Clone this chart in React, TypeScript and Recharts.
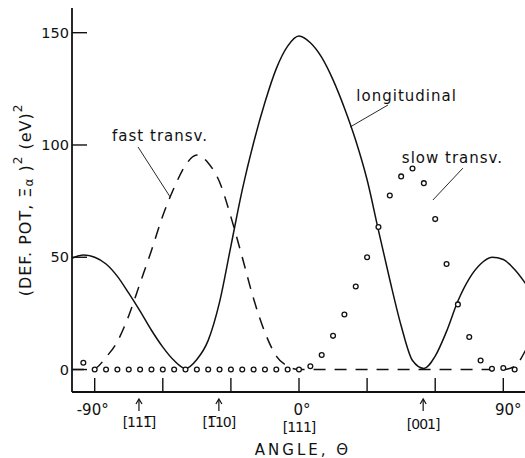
import React from 'react'
import { ComposedChart, Line, XAxis, YAxis, ReferenceLine, ReferenceDot } from 'recharts'

// angle from [111], degrees
const angles = [
  -100, -95, -90, -85, -80, -75, -70, -65, -60, -55, -50, -45, -40, -35, -30, -25, -20, -15, -10, -5,
  0, 5, 10, 15, 20, 25, 30, 35, 40, 45, 50, 55, 60, 65, 70, 75, 80, 85, 90, 95, 100,
]

// deformation potential squared, (eV)^2
const longitudinal = [
  49.5, 51, 50, 47, 41.5, 34, 26, 17.5, 10, 4, 0.5, 4.5, 13, 30, 55, 80, 101, 119, 134, 144,
  148.5, 145.5, 139, 129, 116.5, 102, 84.5, 62, 40, 19.5, 4, 0.5, 6, 17, 30.5, 40.5, 47, 50, 49, 44.5, 38,
]
const fastTransverse = [
  0, 0, 0.5, 5.5, 12.5, 24, 38.5, 53, 68.5, 81, 91, 95.5, 92, 83.5, 68, 50, 31.5, 16.5, 6, 1.5,
  0, 0, 0, 0, 0, 0, 0, 0, 0, 0, 0, 0, 0, 0, 0, 0, 0, 0, 0, 1.5, 9,
]
const slowTransverse = [
  null, 3, 0, 0, 0, 0, 0, 0, 0, 0, 0, 0, 0, 0, 0, 0, 0, 0, 0, 0,
  0, 1.5, 6.5, 15, 24.5, 37, 50, 63.5, 77.5, 86, 89.5, 83, 67, 47, 29, 14.5, 4, 0.3, 0.7, 0, null,
]

const gridAngles = [-90, -60, -30, 0, 30, 60, 90]
const degreeTicks = [-90, 0, 90]
const degreeNames = ['-90°', '0°', '90°']
const directionAngles = [-70.5, -35.3, 0, 54.7]
const directionNames = ['[111\u0305]', '[1\u030510]', '[111]', '[001]']
const potTicks = [0, 50, 100, 150]
const rightTicks = [50, 100, 150]

const rows = angles.map((angle, i) => ({
  angle,
  longitudinal: longitudinal[i],
  fast: fastTransverse[i],
  slow: slowTransverse[i],
}))

const bottomTicks = Array.from(new Set([...gridAngles, ...directionAngles])).sort((a, b) => a - b)

const FONT = '"DejaVu Sans", sans-serif'
const INK = '#111'

function BottomTick({ x, y, payload }: any) {
  const v = payload.value
  const di = degreeTicks.indexOf(v)
  const ri = directionAngles.indexOf(v)
  const degShift = v < 0 ? -2 : v > 0 ? 5 : 3
  return (
    <g>
      {gridAngles.includes(v) && <line x1={x} x2={x} y1={y} y2={y - 14} stroke={INK} strokeWidth={1.4} />}
      {di >= 0 && (
        <text x={x + degShift} y={y + 23} textAnchor="middle" fontSize={15} fontFamily={FONT} fill={INK}>
          {degreeNames[di]}
        </text>
      )}
      {ri >= 0 && v !== 0 && (
        <g stroke={INK} strokeWidth={1.2} fill="none">
          <line x1={x} x2={x} y1={y + 8} y2={y + 19} />
          <polyline points={`${x - 3},${y + 12} ${x},${y + 7} ${x + 3},${y + 12}`} />
        </g>
      )}
      {ri >= 0 && (
        <text
          x={x}
          y={y + (v === 0 ? 40 : v > 0 ? 37 : 35)}
          textAnchor="middle"
          fontSize={14}
          letterSpacing={-1}
          fontFamily={FONT}
          fill={INK}
        >
          {directionNames[ri]}
        </text>
      )}
    </g>
  )
}

function LeftTick({ x, y, payload }: any) {
  return (
    <g>
      <line x1={x} x2={x + 15} y1={y} y2={y} stroke={INK} strokeWidth={1.4} />
      <text x={x - 3} y={y} textAnchor="end" dominantBaseline="central" fontSize={14.5} fontFamily={FONT} fill={INK}>
        {payload.value}
      </text>
    </g>
  )
}

function RightTick({ x, y }: any) {
  return <line x1={x - 13} x2={x} y1={y} y2={y} stroke={INK} strokeWidth={1.4} />
}

function TopTick({ x, y }: any) {
  return <line x1={x} x2={x} y1={y} y2={y + 14} stroke={INK} strokeWidth={1.4} />
}

function AngleTitle({ viewBox }: any) {
  const cx = viewBox.x + viewBox.width / 2 + 4
  return (
    <text x={cx} y={viewBox.y + 63} textAnchor="middle" fontSize={15} letterSpacing={3} fontFamily={FONT} fill={INK}>
      ANGLE,  Θ
    </text>
  )
}

function PotTitle({ viewBox }: any) {
  const cx = viewBox.x + 25
  const cy = viewBox.y + viewBox.height / 2
  return (
    <text
      x={cx}
      y={cy}
      transform={`rotate(-90 ${cx} ${cy})`}
      textAnchor="middle"
      dominantBaseline="central"
      fontSize={16}
      letterSpacing={1}
      fontFamily={FONT}
      fill={INK}
    >
      <tspan>(DEF. POT, Ξ</tspan>
      <tspan dy={4} fontSize={12}>α</tspan>
      <tspan dy={-4}> )</tspan>
      <tspan dy={-7} fontSize={12}>2</tspan>
      <tspan dy={7}> (eV)</tspan>
      <tspan dy={-7} fontSize={12}>2</tspan>
    </text>
  )
}

const note = (text: string) => ({ viewBox }: any) => (
  <text
    x={viewBox.x}
    y={viewBox.y}
    textAnchor="middle"
    dominantBaseline="central"
    fontSize={15}
    letterSpacing={1}
    fontFamily={FONT}
    fill={INK}
  >
    {text}
  </text>
)

export default function App() {
  return (
    <div style={{ position: 'absolute', left: 0, top: 0, width: 525, height: 458, overflow: 'hidden', background: '#fff' }}>
      <ComposedChart width={527} height={458} data={rows} margin={{ top: 8, right: 1, bottom: 0, left: 0 }}>
        <XAxis
          xAxisId="bottom"
          dataKey="angle"
          type="number"
          domain={[-100, 100]}
          allowDataOverflow
          ticks={bottomTicks}
          interval={0}
          tickSize={0}
          tickMargin={0}
          tickLine={false}
          tick={<BottomTick />}
          height={66}
          axisLine={{ stroke: INK, strokeWidth: 1.8 }}
          label={{ content: AngleTitle }}
        />
        <XAxis
          xAxisId="top"
          orientation="top"
          type="number"
          domain={[-100, 100]}
          allowDataOverflow
          ticks={gridAngles}
          interval={0}
          tickSize={0}
          tickMargin={0}
          tickLine={false}
          tick={<TopTick />}
          height={0}
          axisLine={{ stroke: INK, strokeWidth: 1.5 }}
        />
        <YAxis
          yAxisId="left"
          type="number"
          domain={[-10, 161]}
          allowDataOverflow
          ticks={potTicks}
          interval={0}
          tickSize={0}
          tickMargin={0}
          tickLine={false}
          tick={<LeftTick />}
          width={72}
          axisLine={{ stroke: INK, strokeWidth: 1.8 }}
          label={{ content: PotTitle }}
        />
        <YAxis
          yAxisId="right"
          orientation="right"
          type="number"
          domain={[-10, 161]}
          allowDataOverflow
          ticks={rightTicks}
          interval={0}
          tickSize={0}
          tickMargin={0}
          tickLine={false}
          tick={<RightTick />}
          width={0}
          axisLine={{ stroke: INK, strokeWidth: 1.5 }}
        />

        <Line
          xAxisId="bottom"
          yAxisId="left"
          dataKey="fast"
          type="monotone"
          stroke={INK}
          strokeWidth={1.5}
          strokeDasharray="12 9"
          dot={false}
          isAnimationActive={false}
        />
        <Line
          xAxisId="bottom"
          yAxisId="left"
          dataKey="longitudinal"
          type="monotone"
          stroke={INK}
          strokeWidth={1.5}
          dot={false}
          isAnimationActive={false}
        />
        <Line
          xAxisId="bottom"
          yAxisId="left"
          dataKey="slow"
          stroke="none"
          dot={{ r: 2.4, fill: '#fff', stroke: INK, strokeWidth: 1.3 }}
          isAnimationActive={false}
        />

        <ReferenceLine
          xAxisId="bottom"
          yAxisId="left"
          segment={[{ x: -70.9, y: 99.1 }, { x: -56.8, y: 76.9 }]}
          stroke={INK}
          strokeWidth={0.9}
        />
        <ReferenceLine
          xAxisId="bottom"
          yAxisId="left"
          segment={[{ x: 39.2, y: 117.8 }, { x: 22.5, y: 108 }]}
          stroke={INK}
          strokeWidth={0.9}
        />
        <ReferenceLine
          xAxisId="bottom"
          yAxisId="left"
          segment={[{ x: 72.2, y: 89.7 }, { x: 59, y: 75.5 }]}
          stroke={INK}
          strokeWidth={0.9}
        />
        <ReferenceDot xAxisId="bottom" yAxisId="left" x={-61.2} y={104} r={0} stroke="none" fill="none" label={{ content: note('fast transv.') }} />
        <ReferenceDot xAxisId="bottom" yAxisId="left" x={47.4} y={122} r={0} stroke="none" fill="none" label={{ content: note('longitudinal') }} />
        <ReferenceDot xAxisId="bottom" yAxisId="left" x={67.6} y={94.2} r={0} stroke="none" fill="none" label={{ content: note('slow transv.') }} />
      </ComposedChart>
    </div>
  )
}
